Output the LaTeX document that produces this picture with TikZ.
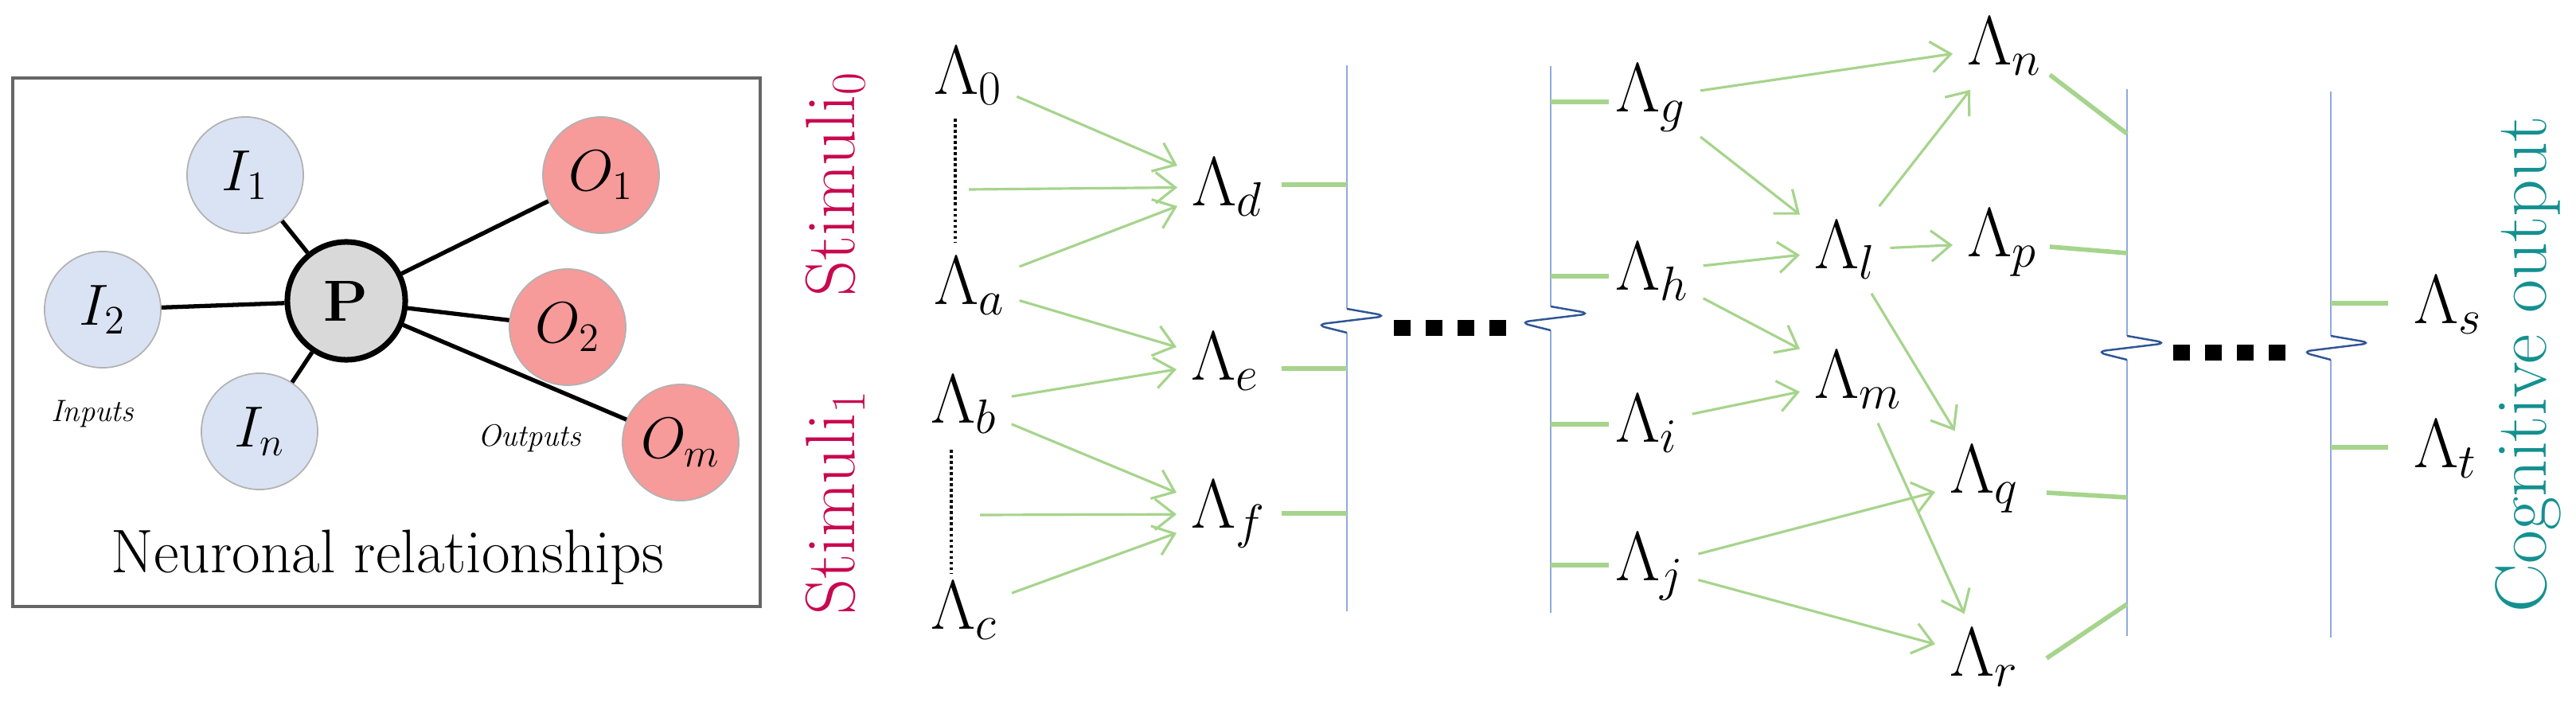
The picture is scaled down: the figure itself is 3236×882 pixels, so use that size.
\documentclass[tikz,border=0pt]{standalone}
\usetikzlibrary{arrows.meta}
\definecolor{arr}{HTML}{A6D48C}
\definecolor{vline}{HTML}{8FAADC}
\definecolor{wig}{HTML}{2F5597}
\definecolor{stim}{HTML}{C8084F}
\definecolor{cog}{HTML}{149090}
\definecolor{infill}{HTML}{DAE3F3}
\definecolor{outfill}{HTML}{F79A9A}
\begin{document}
\begin{tikzpicture}[x=0.01cm,y=-0.01cm,
  lam/.style={anchor=west,inner sep=5pt,font=\fontsize{24}{28}\selectfont},
  ar/.style={draw=arr,line width=0.9pt,-{Straight Barb[length=7pt,width=11pt]}},
  tick/.style={draw=arr,line width=1.6pt},
  vl/.style={draw=vline,line width=0.8pt},
  wg/.style={draw=wig,line width=0.7pt,rounded corners=4pt},
  dots/.style={line width=0.2cm,dash pattern=on 0.21cm off 0.19cm},
  inc/.style={circle,minimum size=1.46cm,inner sep=0pt,fill=infill,draw=gray!60,line width=0.5pt,font=\fontsize{20}{24}\selectfont},
  outc/.style={circle,minimum size=1.46cm,inner sep=0pt,fill=outfill,draw=gray!60,line width=0.5pt,font=\fontsize{20}{24}\selectfont},
  edge/.style={line width=1.5pt}]
\useasboundingbox (0,0) rectangle (3236,882);
% ---- left box
\draw[gray!80!black,line width=1.2pt] (16,98) rectangle (955,762);
\node[circle,minimum size=1.48cm,inner sep=0pt,fill=gray!30,draw=black,line width=2pt,font=\fontsize{20}{24}\selectfont] (P) at (435,378) {$\mathbf{P}$};
\node[inc] (I1) at (308,220) {$I_1$};
\node[inc] (I2) at (129,389) {$I_2$};
\node[inc] (In) at (326,542) {$I_n$};
\node[outc] (O1) at (755,220) {$O_1$};
\node[outc] (O2) at (713,411) {$O_2$};
\node[outc] (Om) at (855,556) {$O_m$};
\foreach \n in {I1,I2,In,O1,O2,Om} \draw[edge] (P) -- (\n);
\node[font=\fontsize{11}{13}\selectfont\itshape] (inp) at (116,520) {Inputs};
\node[font=\fontsize{11}{13}\selectfont\itshape] (outp) at (665,551) {Outputs};
\node[font=\fontsize{22}{26}\selectfont] (nr) at (487,700) {Neuronal relationships};
% ---- stimuli
\node[rotate=90,text=stim,font=\fontsize{25}{30}\selectfont] (s0) at (1049,231) {Stimuli$_0$};
\node[rotate=90,text=stim,font=\fontsize{25}{30}\selectfont] (s1) at (1049,631) {Stimuli$_1$};
\node[rotate=90,text=cog,font=\fontsize{26}{30}\selectfont] (co) at (3176,458) {Cognitive output};
% ---- lambda nodes
\node[lam] (L0) at (1155,95) {$\Lambda_0$};
\node[lam] (La) at (1155,359) {$\Lambda_a$};
\node[lam] (Lb) at (1151,508) {$\Lambda_b$};
\node[lam] (Lc) at (1151,767) {$\Lambda_c$};
\node[lam] (Ld) at (1479,235) {$\Lambda_d$};
\node[lam] (Le) at (1478,454) {$\Lambda_e$};
\node[lam] (Lf) at (1478,646) {$\Lambda_f$};
\node[lam] (Lg) at (2011,123) {$\Lambda_g$};
\node[lam] (Lh) at (2011,341) {$\Lambda_h$};
\node[lam] (Li) at (2011,532) {$\Lambda_i$};
\node[lam] (Lj) at (2011,712) {$\Lambda_j$};
\node[lam] (Ll) at (2261,314) {$\Lambda_l$};
\node[lam] (Lm) at (2261,477) {$\Lambda_m$};
\node[lam] (Ln) at (2453,58) {$\Lambda_n$};
\node[lam] (Lp) at (2453,305) {$\Lambda_p$};
\node[lam] (Lq) at (2431,602) {$\Lambda_q$};
\node[lam] (Lr) at (2431,826) {$\Lambda_r$};
\node[lam] (Ls) at (3014,383) {$\Lambda_s$};
\node[lam] (Lt) at (3014,564) {$\Lambda_t$};
% dotted
\draw[densely dotted,line width=1pt] (1200,149) -- (1200,304);
\draw[densely dotted,line width=1pt] (1195,565) -- (1195,720);
\coordinate (m1) at (1217,238);
\coordinate (m2) at (1231,647);
% arrows
\draw[ar] (L0) -- (Ld);
\draw[ar] (m1) -- (Ld);
\draw[ar] (La) -- (Ld);
\draw[ar] (La) -- (Le);
\draw[ar] (Lb) -- (Le);
\draw[ar] (Lb) -- (Lf);
\draw[ar] (m2) -- (Lf);
\draw[ar] (Lc) -- (Lf);
\draw[ar] (Lg) -- (Ln);
\draw[ar] (Lg) -- (Ll);
\draw[ar] (Lh) -- (Ll);
\draw[ar] (Lh) -- (Lm);
\draw[ar] (Li) -- (Lm);
\draw[ar] (Lj) -- (Lq);
\draw[ar] (Lj) -- (Lr);
\draw[ar] (Ll) -- (Ln);
\draw[ar] (Ll) -- (Lp);
\draw[ar] (Ll) -- (Lq);
\draw[ar] (Lm) -- (Lr);
% vertical lines with wiggles
\draw[vl] (1692,82) -- (1692,388);  \draw[vl] (1692,418) -- (1692,768);
\draw[wg] (1692,388) -- (1743,397) -- (1652,408) -- (1692,418);
\draw[vl] (1948,83) -- (1948,385);  \draw[vl] (1948,415) -- (1948,770);
\draw[wg] (1948,385) -- (1999,394) -- (1908,405) -- (1948,415);
\draw[vl] (2672,112) -- (2672,422); \draw[vl] (2672,452) -- (2672,799);
\draw[wg] (2672,422) -- (2723,431) -- (2632,442) -- (2672,452);
\draw[vl] (2928,115) -- (2928,422); \draw[vl] (2928,452) -- (2928,801);
\draw[wg] (2928,422) -- (2980,431) -- (2890,442) -- (2928,452);
% dots
\draw[dots] (1751,412) -- (1900,412);
\draw[dots] (2730,443) -- (2880,443);
% ticks
\draw[tick] (1610,232) -- (1692,232);
\draw[tick] (1610,463) -- (1692,463);
\draw[tick] (1610,645) -- (1692,645);
\draw[tick] (1948,128) -- (2021,128);
\draw[tick] (1948,347) -- (2021,347);
\draw[tick] (1948,533) -- (2021,533);
\draw[tick] (1948,710) -- (2021,710);
\draw[tick] (2575,94) -- (2672,168);
\draw[tick] (2575,310) -- (2672,318);
\draw[tick] (2571,619) -- (2672,625);
\draw[tick] (2571,827) -- (2672,759);
\draw[tick] (2928,381) -- (3000,381);
\draw[tick] (2928,562) -- (3000,562);
\end{tikzpicture}
\end{document}
